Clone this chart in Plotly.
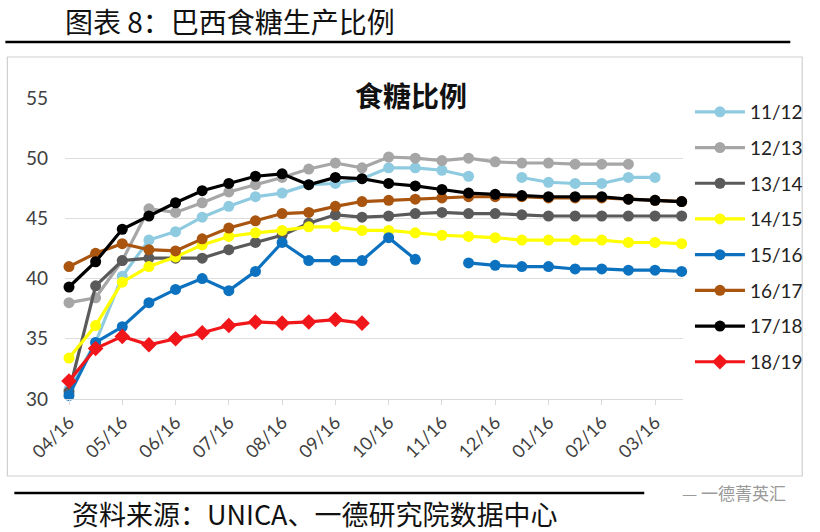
import plotly.graph_objects as go

# ---- data ----
x_idx = list(range(24))
tick_pos = list(range(0, 24, 2))
tick_labels = ["04/16", "05/16", "06/16", "07/16", "08/16", "09/16",
               "10/16", "11/16", "12/16", "01/16", "02/16", "03/16"]

s_11_12 = [30.8, 34.7, 40.2, 43.2, 43.9, 45.1, 46.0, 46.8, 47.1, 47.8, 47.9, 48.3,
           49.2, 49.2, 49.0, 48.5, None, 48.4, 48.0, 47.9, 47.9, 48.4, 48.4, None]
s_12_13 = [38.0, 38.4, 41.5, 45.8, 45.5, 46.3, 47.2, 47.8, 48.4, 49.1, 49.6, 49.2,
           50.1, 50.0, 49.8, 50.0, 49.7, 49.6, 49.6, 49.5, 49.5, 49.5, None, None]
s_13_14 = [30.6, 39.4, 41.5, 41.7, 41.7, 41.7, 42.4, 43.0, 43.6, 44.6, 45.3, 45.1,
           45.2, 45.4, 45.5, 45.4, 45.4, 45.3, 45.2, 45.2, 45.2, 45.2, 45.2, 45.2]
s_14_15 = [33.4, 36.1, 39.7, 41.0, 41.8, 42.8, 43.5, 43.8, 44.0, 44.3, 44.3, 44.0,
           44.0, 43.8, 43.6, 43.5, 43.4, 43.2, 43.2, 43.2, 43.2, 43.0, 43.0, 42.9]
s_15_16 = [30.3, 34.7, 36.0, 38.0, 39.1, 40.0, 39.0, 40.6, 43.0, 41.5, 41.5, 41.5,
           43.4, 41.6, None, 41.3, 41.1, 41.0, 41.0, 40.8, 40.8, 40.7, 40.7, 40.6]
s_16_17 = [41.0, 42.1, 42.9, 42.4, 42.3, 43.3, 44.2, 44.8, 45.4, 45.5, 46.0, 46.4,
           46.5, 46.6, 46.7, 46.8, 46.8, 46.8, 46.7, 46.7, 46.7, 46.6, 46.5, 46.4]
s_17_18 = [39.3, 41.4, 44.1, 45.2, 46.3, 47.3, 47.9, 48.5, 48.7, 47.8, 48.4, 48.3,
           47.9, 47.7, 47.4, 47.1, 47.0, 46.9, 46.8, 46.8, 46.8, 46.6, 46.5, 46.4]
s_18_19 = [31.5, 34.2, 35.2, 34.5, 35.0, 35.5, 36.1, 36.4, 36.3, 36.4, 36.6, 36.3,
           None, None, None, None, None, None, None, None, None, None, None, None]

series_names = ["11/12", "12/13", "13/14", "14/15", "15/16", "16/17", "17/18", "18/19"]
series_values = [s_11_12, s_12_13, s_13_14, s_14_15, s_15_16, s_16_17, s_17_18, s_18_19]
series_colors = ["#8ECBE0", "#A6A6A6", "#5A5A5A", "#FFFF00", "#0C72C0", "#A9550F", "#000000", "#F0161A"]
series_symbols = ["circle"] * 7 + ["diamond"]

# ---- layout geometry (pixels) ----
W, H = 820, 532
L, R, T, B = 65, 687, 98, 399


def px(x):
    return (x - L) / (R - L)


def py(y):
    return (B - y) / (B - T)


fig = go.Figure()
for i, (name, vals, col, sym) in enumerate(zip(series_names, series_values, series_colors, series_symbols)):
    fig.add_trace(go.Scatter(
        x=x_idx, y=vals, name=name, mode="lines+markers",
        line=dict(color=col, width=3.2),
        marker=dict(color=col, size=11 if sym == "circle" else 12, symbol=sym),
        cliponaxis=False, legendgroup="g%d" % i,
    ))

shapes = [
    dict(type="rect", xref="paper", yref="paper", x0=px(7), x1=px(807), y0=py(476), y1=py(57),
         line=dict(color="#D0D0D0", width=1.2), fillcolor="rgba(0,0,0,0)", layer="below"),
    dict(type="line", xref="paper", yref="paper", x0=px(5), x1=px(795), y0=py(42), y1=py(42),
         line=dict(color="#000000", width=2.5)),
    dict(type="line", xref="paper", yref="paper", x0=px(14), x1=px(648), y0=py(493), y1=py(493),
         line=dict(color="#000000", width=2.5)),
]

annotations = [
    dict(text="图表 8：巴西食糖生产比例", xref="paper", yref="paper", x=px(63), y=py(21),
         xanchor="left", yanchor="middle", showarrow=False,
         font=dict(family="Noto Sans CJK SC", size=28, color="#111111")),
    dict(text="<b>食糖比例</b>", xref="paper", yref="paper", x=px(413), y=py(95),
         xanchor="center", yanchor="middle", showarrow=False, bgcolor="#FFFFFF",
         font=dict(family="Noto Sans CJK SC", size=28, color="#111111")),
    dict(text="资料来源：UNICA、一德研究院数据中心", xref="paper", yref="paper", x=px(70), y=py(513),
         xanchor="left", yanchor="middle", showarrow=False,
         font=dict(family="Noto Sans CJK SC", size=27, color="#111111")),
    dict(text="— 一德菁英汇", xref="paper", yref="paper", x=px(793), y=py(492),
         xanchor="right", yanchor="middle", showarrow=False,
         font=dict(family="Noto Sans CJK SC", size=17, color="#9A9A9A")),
]

fig.update_layout(
    width=W, height=H,
    margin=dict(l=L, r=W - R, t=T, b=H - B, pad=0),
    paper_bgcolor="#FFFFFF", plot_bgcolor="#FFFFFF",
    showlegend=True,
    legend=dict(x=px(694), y=py(93), xanchor="left", yanchor="top",
                font=dict(family="Lato", size=19, color="#222222"),
                tracegroupgap=8, itemwidth=50, bgcolor="rgba(0,0,0,0)",
                maxheight=420),
    shapes=shapes, annotations=annotations,
    xaxis=dict(range=[-0.15, 23.05], tickmode="array", tickvals=tick_pos, ticktext=tick_labels,
               tickangle=-45, showgrid=False, zeroline=False,
               showline=True, linecolor="#D9D9D9", linewidth=1,
               ticks="outside", ticklen=5, tickcolor="#D9D9D9",
               tickfont=dict(family="Lato", size=18, color="#404040")),
    yaxis=dict(range=[30, 55], tickvals=[30, 35, 40, 45, 50, 55], showgrid=True,
               gridcolor="#DDDDDD", gridwidth=1, zeroline=False, showline=False,
               ticks="", ticklabelstandoff=16,
               tickfont=dict(family="Lato", size=19, color="#404040")),
)

fig.write_html("out.html", config={"displayModeBar": False},
               post_script="document.body.style.margin='0';document.body.style.padding='0';")
